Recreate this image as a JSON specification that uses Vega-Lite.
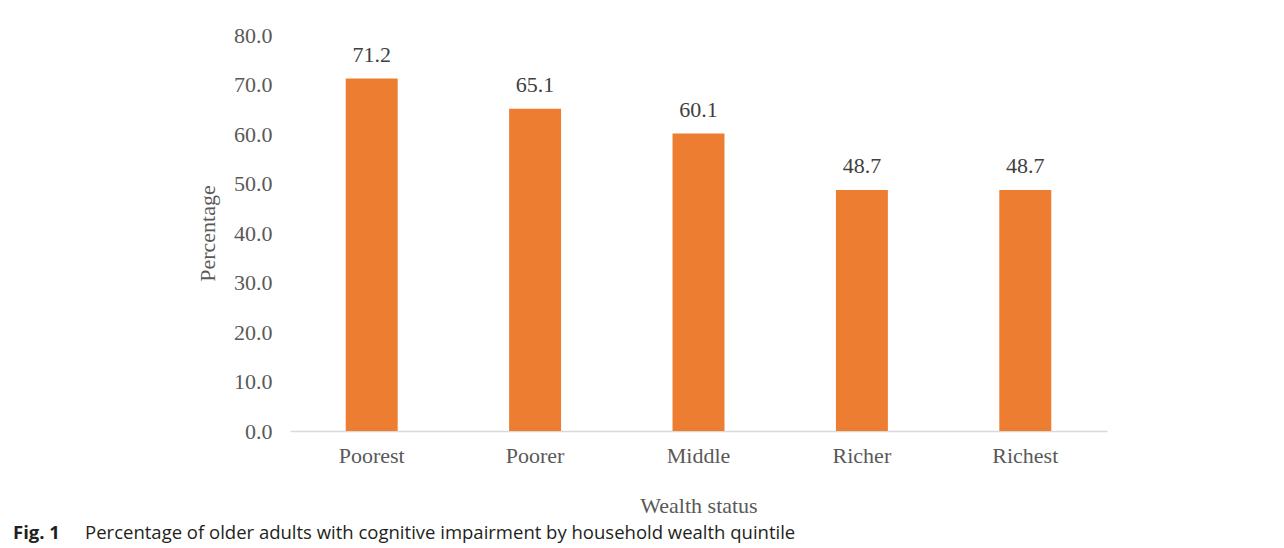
{
  "$schema": "https://vega.github.io/schema/vega-lite/v6.json",
  "width": 817,
  "height": 396,
  "autosize": {"type": "none"},
  "padding": {"left": 290, "top": 35, "right": 177, "bottom": 117},
  "background": "white",
  "config": {
    "view": {"stroke": null},
    "font": "Liberation Serif"
  },
  "title": {
    "text": "Fig. 1",
    "subtitle": "\u200b\u00a0\u00a0\u00a0\u00a0\u00a0\u00a0\u00a0\u00a0\u00a0\u00a0\u00a0\u00a0\u00a0\u00a0\u00a0Percentage of older adults with cognitive impairment by household wealth quintile",
    "orient": "bottom",
    "anchor": "start",
    "frame": "group",
    "font": "Open Sans",
    "fontSize": 18.5,
    "fontWeight": "bold",
    "color": "#231F20",
    "subtitleFont": "Open Sans",
    "subtitleFontSize": 18.5,
    "subtitleFontWeight": "normal",
    "subtitleColor": "#231F20",
    "subtitlePadding": -18.5,
    "dx": -277,
    "offset": 8
  },
  "data": {
    "values": [
      {"wealth": "Poorest", "pct": 71.2},
      {"wealth": "Poorer", "pct": 65.1},
      {"wealth": "Middle", "pct": 60.1},
      {"wealth": "Richer", "pct": 48.7},
      {"wealth": "Richest", "pct": 48.7}
    ]
  },
  "encoding": {
    "x": {
      "field": "wealth",
      "type": "nominal",
      "sort": null,
      "scale": {"paddingInner": 0.682, "paddingOuter": 0.341},
      "axis": {
        "title": "Wealth status",
        "labelAngle": 0,
        "labelFont": "Liberation Serif",
        "labelFontSize": 22,
        "labelColor": "#595959",
        "labelPadding": 14,
        "ticks": false,
        "tickSize": 0,
        "domain": true,
        "domainColor": "#D9D9D9",
        "domainWidth": 1.5,
        "titleFont": "Liberation Serif",
        "titleFontSize": 22,
        "titleFontWeight": "normal",
        "titleColor": "#595959",
        "titleY": 74,
        "titleBaseline": "middle"
      }
    },
    "y": {
      "field": "pct",
      "type": "quantitative",
      "scale": {"domain": [0, 80]},
      "axis": {
        "title": "Percentage",
        "values": [0, 10, 20, 30, 40, 50, 60, 70, 80],
        "format": ".1f",
        "grid": false,
        "domain": false,
        "ticks": false,
        "tickSize": 0,
        "labelFont": "Liberation Serif",
        "labelFontSize": 22,
        "labelColor": "#595959",
        "labelPadding": 18,
        "titleFont": "Liberation Serif",
        "titleFontSize": 22,
        "titleFontWeight": "normal",
        "titleColor": "#595959",
        "titleX": -83,
        "titleY": 198,
        "titleBaseline": "middle",
        "titleAlign": "center"
      }
    }
  },
  "layer": [
    {"mark": {"type": "bar", "color": "#ED7D31"}},
    {
      "mark": {"type": "text", "baseline": "bottom", "dy": -12, "fontSize": 22, "font": "Liberation Serif", "color": "#404040"},
      "encoding": {"text": {"field": "pct", "type": "quantitative", "format": ".1f"}}
    }
  ]
}
